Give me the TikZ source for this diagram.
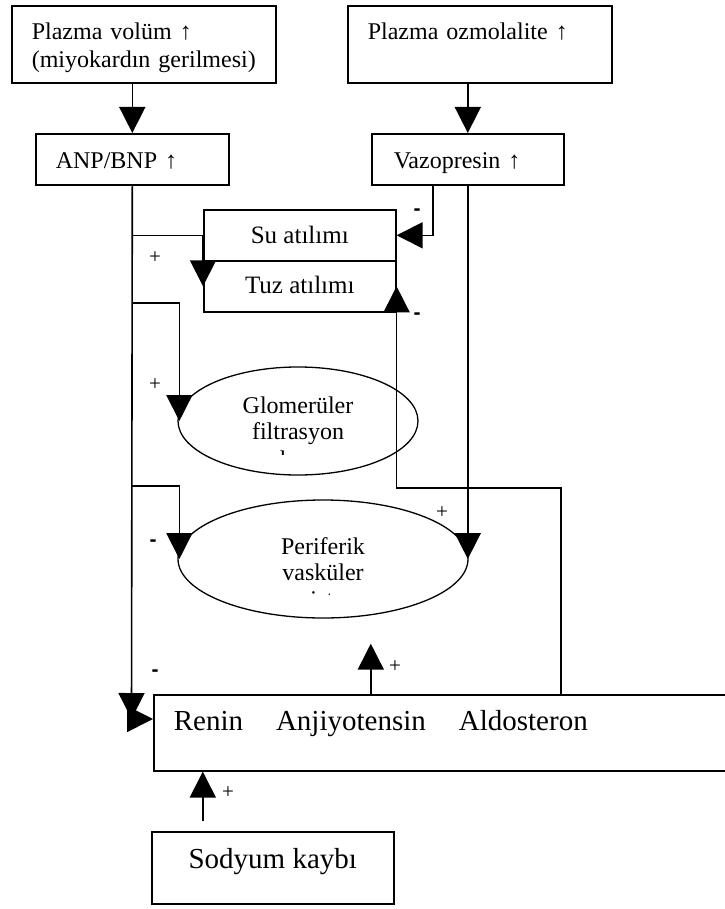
\documentclass[tikz,border=0pt]{standalone}
\usepackage{fontspec}
\setmainfont{Liberation Serif}
\newfontfamily\signfont{Liberation Sans}
\usetikzlibrary{arrows.meta,shapes.geometric}
\newcommand{\txt}[1]{\fontsize{#1}{28}\selectfont}
\tikzset{
  box/.style  = {draw, line width=1.6pt, inner sep=0pt, font=\txt{24}},
  oval/.style = {draw, ellipse, line width=1.3pt, inner sep=0pt, align=center,
                 font=\fontsize{24}{26}\selectfont},
  arr/.style  = {-{Triangle[length=26pt,width=26pt]}, line width=1.6pt},
  sgn/.style  = {inner sep=0pt, font=\fontsize{21}{21}\selectfont},
  sgnm/.style = {inner sep=0pt, font=\signfont\fontsize{21}{21}\selectfont\bfseries}
}

\begin{document}
\begin{tikzpicture}[x=1pt,y=-1pt]
  \useasboundingbox (0,0) rectangle (724,909);
  % --- top row
  \node[box, anchor=north west, minimum width=264pt, text width=224pt, align=left,
        text height=34pt, text depth=43pt] (pvol) at (11,5)
        {Plazma volüm ↑\\(miyokardın gerilmesi)};
  \node[box, anchor=north west, minimum width=264pt, text width=224pt, align=left,
        text height=34pt, text depth=43pt] (posm) at (347,5)
        {Plazma ozmolalite ↑};
  % --- hormones
  \node[box, anchor=north west, minimum width=193pt, text width=153pt, align=left,
        text height=35pt, text depth=16pt] (anp) at (35,133) {ANP/BNP ↑};
  \node[box, anchor=north west, minimum width=192pt, text width=148pt, align=left,
        text height=35pt, text depth=16pt] (vaz) at (371,133) {Vazopresin ↑};
  % --- excretion
  \node[box, anchor=north west, minimum width=192pt, font=\txt{25},
        text height=34pt, text depth=17pt] (su) at (203,209) {Su atılımı};
  \node[box, anchor=north west, minimum width=192pt, font=\txt{25},
        text height=33pt, text depth=18pt] (tuz) at (203,260) {Tuz atılımı};
  % --- ellipses, third line cut off as in the source
  \node[oval, minimum width=240pt, minimum height=108pt] (glom) at (298,421)
        {Glomerüler\\filtrasyon};
  \begin{scope}
    \clip (250,440) rectangle (350,454.5);
    \node[anchor=base, inner sep=0pt, font=\txt{24}] (glomhiz) at (298,467) {hızı};
  \end{scope}
  \node[oval, minimum width=290pt, minimum height=118pt] (peri) at (323,559)
        {Periferik\\vasküler};
  \begin{scope}
    \clip (270,580) rectangle (380,594.5);
    \node[anchor=base, inner sep=0pt, font=\txt{24}] (perirez) at (323,607) {rezistans};
  \end{scope}
  % --- bottom
  \node[box, anchor=north west, minimum width=575pt, text width=535pt, align=left,
        font=\txt{29}, text height=36pt, text depth=40pt] (raa) at (153,694)
        {Renin\hspace{33pt}Anjiyotensin\hspace{33pt}Aldosteron};
  \node[box, anchor=north west, minimum width=242pt, font=\txt{29},
        text height=37pt, text depth=35pt] (sod) at (151,831) {Sodyum kaybı};

  % --- connectors
  \coordinate (lowL) at (131.5,719);
  \coordinate (brG)  at (131.5,303);
  \coordinate (brP)  at (131.5,486);
  \coordinate (loopR) at (561,488);
  \draw[arr] (pvol.south -| anp.north) -- (anp.north);
  \draw[arr] (posm.south -| vaz.north) -- (vaz.north);
  \draw[arr] (anp.south) -- (lowL);
  \draw[arr] ([xshift=-4pt]lowL) -- (lowL -| raa.west);
  \draw[arr] (anp.south |- su.west) -- (su.west) -- (tuz.west);
  \draw[arr] (brG) -| ([xshift=2pt]glom.west);
  \draw[arr] (brP) -| ([xshift=2pt]peri.west);
  \draw[arr] ([xshift=-35pt]vaz.south) |- (su.east);
  \draw[arr] (vaz.south) -- (vaz.south |- peri.east);
  \draw[arr] (raa.north -| loopR) -- (loopR) -| (tuz.east);
  \draw[arr, shorten >=25pt] ([xshift=-70.5pt]raa.north)
        -- ([xshift=-70.5pt]raa.north |- peri.south);
  \draw[arr, shorten <=10pt] ([xshift=-70pt]sod.north)
        -- ([xshift=-70pt]sod.north |- raa.south);

  % --- signs
  \node[sgn]  (plusSu)    at (155,258) {+};
  \node[sgnm] (minusSu)   at (417,212) {-};
  \node[sgnm] (minusTuz)  at (417,316) {-};
  \node[sgn]  (plusGlom)  at (155,385) {+};
  \node[sgnm] (minusPeri) at (153,543) {-};
  \node[sgn]  (plusPeri)  at (442,513) {+};
  \node[sgn]  (plusRaa)   at (395,667) {+};
  \node[sgnm] (minusRaa)  at (155,673) {-};
  \node[sgn]  (plusSod)   at (228,793) {+};
\end{tikzpicture}
\end{document}
